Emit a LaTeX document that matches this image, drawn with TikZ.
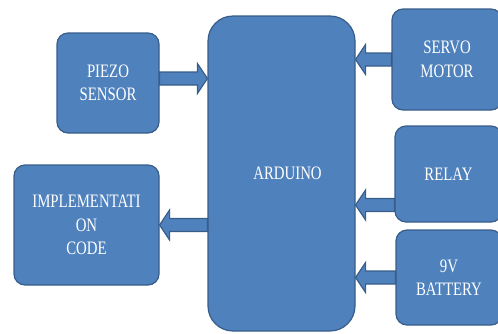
\documentclass[tikz,border=0pt]{standalone}
\usepackage{fontspec}
\setmainfont{Liberation Serif}[FakeStretch=0.78]
\usetikzlibrary{calc}
\definecolor{boxblue}{HTML}{4F81BD}
\definecolor{boxline}{HTML}{385D8A}

\tikzset{
  block/.style={rectangle, rounded corners=11pt, draw=boxline, fill=boxblue, line width=1.2pt,
    text=white, align=center, inner sep=0pt, font=\fontsize{19}{23.5}\selectfont},
  bigarrow/.style={draw=boxline, fill=boxblue, line width=1.2pt, to path={
    ($(\tikztotarget)!10pt!(\tikztostart)$) coordinate (h)
    ($(\tikztostart)!6.5pt!90:(\tikztotarget)$) -- ($(h)!6.5pt!90:(\tikztotarget)$)
    -- ($(h)!15pt!90:(\tikztotarget)$) -- (\tikztotarget)
    -- ($(h)!15pt!-90:(\tikztotarget)$) -- ($(h)!6.5pt!-90:(\tikztotarget)$)
    -- ($(\tikztostart)!6.5pt!-90:(\tikztotarget)$) -- cycle}}
}

\begin{document}
\begin{tikzpicture}[x=1pt, y=-1pt]
    \useasboundingbox (0,0) rectangle (498,333);

    % Controller
    \node [block, rounded corners=25pt, minimum width=147pt, minimum height=315pt] (arduino) at (281.5,173.5) {\hspace*{12pt}ARDUINO};

    % Left side
    \node [block, minimum width=102pt, minimum height=100pt] (piezo) at (108,83) {PIEZO\\SENSOR};
    \node [block, minimum width=145pt, minimum height=120pt] (code) at (86.5,225) {IMPLEMENTATI\\ON\\CODE};

    % Right side
    \node [block, minimum width=110pt, minimum height=101pt] (servo) at (447,59.5) {SERVO\\MOTOR};
    \node [block, minimum width=107pt, minimum height=96pt] (relay) at (448.5,174) {RELAY};
    \node [block, minimum width=106pt, minimum height=95pt] (battery) at (449,277.5) {9V\\BATTERY};

    % Arrows
    \coordinate (piezoout) at ([yshift=4.5pt]piezo.east);
    \coordinate (relayout) at ([yshift=-31pt]relay.west);
    \draw[bigarrow] (piezoout) to (piezoout -| arduino.west);
    \draw[bigarrow] (arduino.west |- code.east) to (code.east);
    \draw[bigarrow] (servo.west) to (servo.west -| arduino.east);
    \draw[bigarrow] (relayout) to (relayout -| arduino.east);
    \draw[bigarrow] (battery.west) to (battery.west -| arduino.east);
\end{tikzpicture}
\end{document}
